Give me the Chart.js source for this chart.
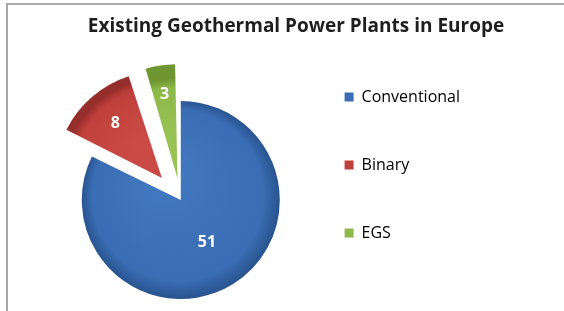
<!DOCTYPE html>
<html>
<head>
<meta charset="utf-8">
<script src="https://cdn.jsdelivr.net/npm/chart.js@4"></script>
<style>
  html, body { margin: 0; padding: 0; background: #fff; }
  #wrap { position: relative; width: 564px; height: 311px; overflow: hidden; }
  #frame { position: absolute; left: 6px; top: 3px; right: -4px; bottom: -4px;
           border-top: 2px solid #a9a9a9; border-left: 2px solid #a9a9a9; }
  canvas { position: absolute; left: 0; top: 0; }
</style>
</head>
<body>
<div id="wrap">
  <div id="frame"></div>
  <canvas id="plantsChart" width="564" height="311"></canvas>
</div>
<script>
const categories = ["Conventional", "Binary", "EGS"];
const plantCounts = [51, 8, 3];

const chartTitle = "Existing Geothermal Power Plants in Europe";

// flat colours for the legend, light/dark pairs for the slice shading
const flatColors = ["#3a6db3", "#c0403c", "#8db84a"];
const lightColors = ["#4279c0", "#cc4b46", "#9ac456"];
const darkColors = ["#27528d", "#962e2b", "#6f9633"];

function sliceFill(context) {
    const i = context.dataIndex;
    const area = context.chart.chartArea;
    if (!area) return flatColors[i];
    const cx = (area.left + area.right) / 2;
    const cy = (area.top + area.bottom) / 2;
    const g = context.chart.ctx.createRadialGradient(cx - 20, cy - 30, 5, cx, cy, 100);
    g.addColorStop(0, lightColors[i]);
    g.addColorStop(0.85, flatColors[i]);
    g.addColorStop(1, darkColors[i]);
    return g;
}

// white value labels inside the slices
const labelRadius = [0.5, 0.64, 0.71];
const sliceLabels = {
    id: "sliceLabels",
    afterDatasetsDraw(chart) {
        const ctx = chart.ctx;
        const meta = chart.getDatasetMeta(0);
        ctx.save();
        ctx.font = "bold 16px 'Open Sans'";
        ctx.fillStyle = "#ffffff";
        ctx.textAlign = "center";
        ctx.textBaseline = "middle";
        meta.data.forEach((arc, i) => {
            const p = arc.getProps(["x", "y", "startAngle", "endAngle", "outerRadius", "circumference"], true);
            const mid = (p.startAngle + p.endAngle) / 2;
            const off = (arc.options.offset || 0) / 4;
            const shift = off * (2 - Math.sin(Math.min(Math.PI, p.circumference)));
            const r = shift + p.outerRadius * labelRadius[i];
            ctx.fillText(String(plantCounts[i]), p.x + Math.cos(mid) * r, p.y + Math.sin(mid) * r);
        });
        ctx.restore();
    }
};

const ctx = document.getElementById("plantsChart").getContext("2d");
new Chart(ctx, {
    type: "pie",
    data: {
        labels: categories,
        datasets: [{
            data: plantCounts,
            backgroundColor: sliceFill,
            borderWidth: 0,
            offset: [0, 116, 87],
            radius: 99
        }]
    },
    options: {
        responsive: false,
        animation: false,
        layout: {
            padding: { left: 69, right: 41, top: 0, bottom: -19 }
        },
        plugins: {
            title: {
                display: true,
                text: chartTitle,
                color: "#1e1e1e",
                font: { family: "'Open Sans'", size: 19, weight: "bold", lineHeight: 1.2 },
                padding: { top: 15.6, bottom: 50.6 }
            },
            // empty subtitle on the right, only keeps some room right of the legend
            subtitle: {
                display: true,
                text: "",
                position: "right",
                font: { size: 12, lineHeight: 1.2 },
                padding: { top: 0, bottom: 38.6 }
            },
            legend: {
                position: "right",
                align: "center",
                maxWidth: 220,
                labels: {
                    boxWidth: 9,
                    boxHeight: 9,
                    padding: 52,
                    color: "#333333",
                    font: { family: "'Open Sans'", size: 16 },
                    generateLabels(chart) {
                        return categories.map((name, i) => ({
                            text: name,
                            fillStyle: flatColors[i],
                            strokeStyle: flatColors[i],
                            lineWidth: 0,
                            hidden: false,
                            index: i
                        }));
                    }
                }
            },
            tooltip: { enabled: false }
        }
    },
    plugins: [sliceLabels]
});
</script>
</body>
</html>
